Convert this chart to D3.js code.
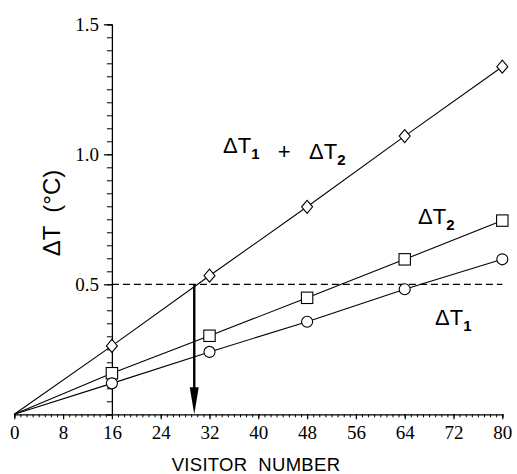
<!DOCTYPE html>
<html>
<head>
<meta charset="utf-8">
<script src="https://cdn.jsdelivr.net/npm/d3@7"></script>
<style>
  html, body { margin: 0; padding: 0; background: #fff; }
  svg { display: block; }
  text { white-space: pre; }
</style>
</head>
<body>
<svg id="chart" width="517" height="474"></svg>
<script>
// ---- data ----
const visitors = [0, 16, 32, 48, 64, 80];
const dT1 = [0, 0.119, 0.240, 0.356, 0.481, 0.596];
const dT2 = [0, 0.158, 0.302, 0.448, 0.596, 0.745];
const dTsum = [0, 0.263, 0.533, 0.798, 1.070, 1.337];
const xTickLabels = [0, 8, 16, 24, 32, 40, 48, 56, 64, 72, 80];
const yTickLabels = [0.5, 1.0, 1.5];
const thresholdValue = 0.5;
const thresholdVisitor = 29.5;
const yAxisAt = 16;

// ---- setup ----
const svg = d3.select("#chart");
const x = d3.scaleLinear().domain([0, 80]).range([14.3, 502.3]);
const y = d3.scaleLinear().domain([0, 1.5]).range([414.3, 24.3]);

const serif = "'Liberation Serif', 'Times New Roman', serif";
const sans = "'Liberation Sans', Arial, Helvetica, sans-serif";

// ---- x axis ----
const xMinor = svg.append("g").attr("transform", `translate(0,${y(0)})`)
  .call(d3.axisBottom(x).tickValues(d3.range(0, 81, 1)).tickSize(3).tickFormat(""));
xMinor.select(".domain").attr("stroke", "#000").attr("stroke-width", 1.3);
xMinor.selectAll(".tick line").attr("stroke", "#000").attr("stroke-width", 1);

const xMajor = svg.append("g").attr("transform", `translate(0,${y(0)})`)
  .call(d3.axisBottom(x).tickValues(xTickLabels).tickSize(5).tickPadding(6.5).tickFormat(d3.format("d")));
xMajor.select(".domain").remove();
xMajor.selectAll(".tick line").attr("stroke", "#000").attr("stroke-width", 1.2);
xMajor.selectAll(".tick text").attr("font-family", serif).attr("font-size", 19).attr("fill", "#000");

// ---- y axis (positioned at visitor 16) ----
const yMinor = svg.append("g").attr("transform", `translate(${x(yAxisAt)},0)`)
  .call(d3.axisLeft(y).tickValues(d3.range(0, 31).map(i => i * 0.05)).tickSize(5).tickFormat(""));
yMinor.select(".domain").attr("stroke", "#000").attr("stroke-width", 1.3);
yMinor.selectAll(".tick line").attr("stroke", "#000").attr("stroke-width", 1);

const yMajor = svg.append("g").attr("transform", `translate(${x(yAxisAt)},0)`)
  .call(d3.axisLeft(y).tickValues(yTickLabels).tickSize(8).tickPadding(5).tickFormat(d3.format(".1f")));
yMajor.select(".domain").remove();
yMajor.selectAll(".tick line").attr("stroke", "#000").attr("stroke-width", 1.2);
yMajor.selectAll(".tick text").attr("font-family", serif).attr("font-size", 19).attr("fill", "#000");

// ---- axis titles ----
svg.append("text")
  .attr("x", 256).attr("y", 471)
  .attr("text-anchor", "middle")
  .attr("font-family", sans).attr("font-size", 18.5)
  .attr("letter-spacing", 0.3)
  .text("VISITOR  NUMBER");

svg.append("text")
  .attr("transform", `translate(60,213) rotate(-90)`)
  .attr("text-anchor", "middle")
  .attr("font-family", sans).attr("font-size", 24)
  .text("ΔT  (°C)");

// ---- threshold dashed line ----
svg.append("line")
  .attr("x1", x(yAxisAt)).attr("x2", x(80))
  .attr("y1", y(thresholdValue)).attr("y2", y(thresholdValue))
  .attr("stroke", "#000").attr("stroke-width", 1.2)
  .attr("stroke-dasharray", "7,4");

// ---- arrow ----
const ax = x(thresholdVisitor);
svg.append("line")
  .attr("x1", ax).attr("x2", ax)
  .attr("y1", y(thresholdValue)).attr("y2", y(0) - 20)
  .attr("stroke", "#000").attr("stroke-width", 2.4);
svg.append("path")
  .attr("d", `M${ax - 4.5},${y(0) - 27} L${ax + 4.5},${y(0) - 27} L${ax},${y(0)} Z`)
  .attr("fill", "#000");

// ---- series lines ----
const series = [
  { name: "sum", values: dTsum, shape: "diamond" },
  { name: "dT2", values: dT2, shape: "square" },
  { name: "dT1", values: dT1, shape: "circle" }
];
const line = d3.line().x((d, i) => x(visitors[i])).y(d => y(d));
series.forEach(s => {
  svg.append("path")
    .attr("d", line(s.values))
    .attr("fill", "none").attr("stroke", "#000").attr("stroke-width", 1.1);
});

// ---- markers ----
series.forEach(s => {
  const pts = s.values.map((v, i) => ({ vx: visitors[i], v })).filter(p => p.vx > 0);
  const g = svg.append("g");
  pts.forEach(p => {
    const cx = x(p.vx), cy = y(p.v);
    if (s.shape === "diamond") {
      g.append("path")
        .attr("d", `M${cx},${cy - 6.5} L${cx + 5.5},${cy} L${cx},${cy + 6.5} L${cx - 5.5},${cy} Z`)
        .attr("fill", "#fff").attr("stroke", "#000").attr("stroke-width", 1.1);
    } else if (s.shape === "square") {
      g.append("rect")
        .attr("x", cx - 5.7).attr("y", cy - 5.7).attr("width", 11.4).attr("height", 11.4)
        .attr("fill", "#fff").attr("stroke", "#000").attr("stroke-width", 1.1);
    } else {
      g.append("circle")
        .attr("cx", cx).attr("cy", cy).attr("r", 5.5)
        .attr("fill", "#fff").attr("stroke", "#000").attr("stroke-width", 1.1);
    }
  });
});

// ---- series labels ----
function deltaLabel(xp, yp, parts) {
  const t = svg.append("text")
    .attr("x", xp).attr("y", yp)
    .attr("font-family", sans).attr("font-size", 22).attr("fill", "#000");
  parts.forEach(p => {
    if (p.sub) {
      t.append("tspan").attr("font-size", 15).attr("font-weight", "bold").attr("dy", 6).text(p.sub);
      t.append("tspan").attr("dy", -6).text("");
    } else {
      t.append("tspan").text(p.text);
    }
  });
}
deltaLabel(223, 153, [{ text: "ΔT" }, { sub: "1" }, { text: "   +   ΔT" }, { sub: "2" }]);
deltaLabel(418, 224, [{ text: "ΔT" }, { sub: "2" }]);
deltaLabel(435, 325, [{ text: "ΔT" }, { sub: "1" }]);
</script>
</body>
</html>
